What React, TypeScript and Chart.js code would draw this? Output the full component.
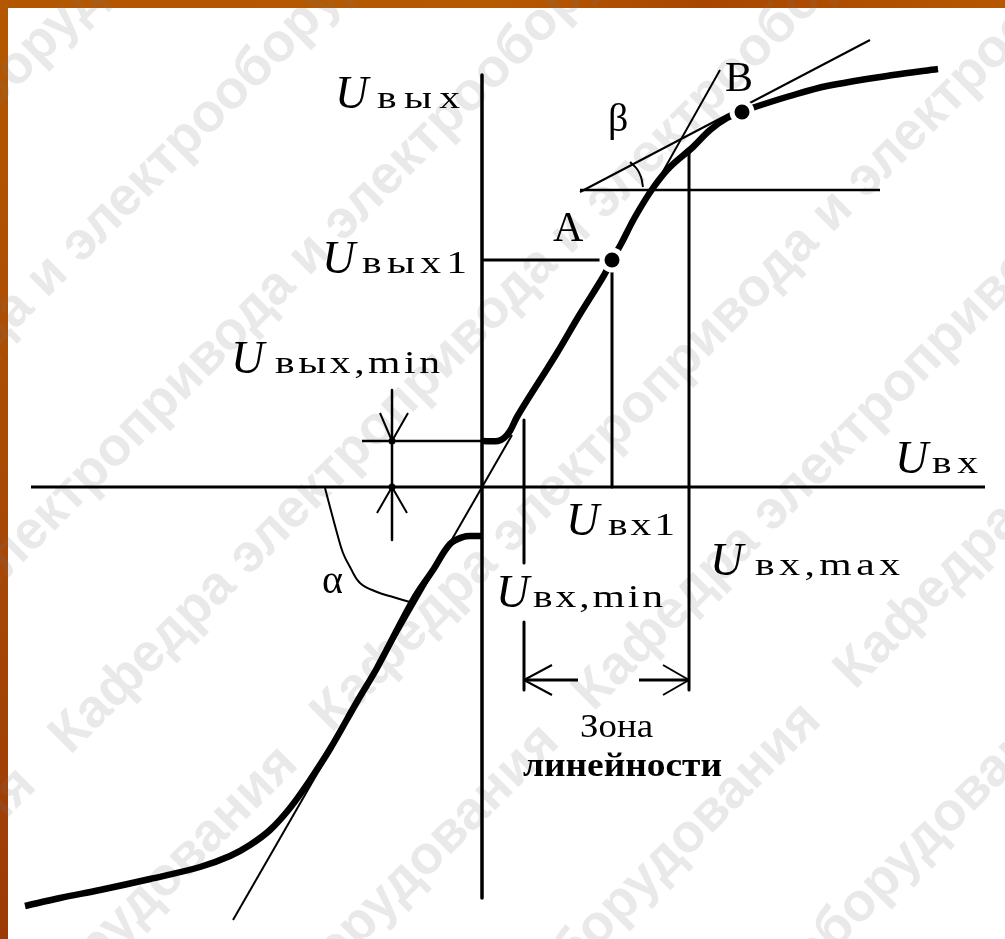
import React, { useEffect, useRef } from "react";
import { Chart, registerables } from "chart.js";

Chart.register(...registerables);

type Pt = [number, number];

// Coordinate frame: origin at the crossing of the Uвх / Uвых axes, y pointing up
const xRange: Pt = [-482, 523];
const yRange: Pt = [-452, 487];

const inputAxis: Pt[] = [[-451, 0], [503, 0]];
const outputAxis: Pt[] = [[0, 412], [0, -411]];

// Static characteristic Uвых = f(Uвх): branch for negative input
const curveNegative: Pt[] = [
  [-457, -419], [-422, -411], [-382, -403], [-332, -392], [-282, -380], [-252, -369],
  [-232, -358], [-212, -343], [-192, -321], [-172, -293], [-152, -262], [-124, -213],
  [-105, -181], [-69, -113], [-49, -83], [-32, -57], [-19, -50], [-9, -49], [0, -49],
];

// Branch for positive input, through the working point A and the point B
const curvePositive: Pt[] = [
  [0, 46], [16, 46], [22, 49], [28, 56], [35, 70], [58, 107], [75, 134], [98, 173],
  [121, 210], [130, 227], [139, 243], [153, 270], [171, 299], [188, 320], [211, 340],
  [228, 357], [245, 369], [260, 375], [270, 379], [308, 391], [345, 401], [411, 412],
  [456, 418],
];

// Tangents to the characteristic
const tangentOrigin: Pt[] = [[-249, -433], [30, 52]];
const tangentA: Pt[] = [[166, 289], [238, 417]];
const tangentB: Pt[] = [[98, 295], [388, 447]];

// Construction lines
const levelA: Pt[] = [[0, 227], [130, 227]];
const dropA: Pt[] = [[130, 227], [130, 0]];
const levelBeta: Pt[] = [[98, 297], [398, 297]];
const inputMaxLine: Pt[] = [[207, 335], [207, -203]];
const inputMinUpper: Pt[] = [[42, 67], [42, -76]];
const inputMinLower: Pt[] = [[42, -135], [42, -203]];

// Linear zone dimension arrows
const zoneArrowLeft: Pt[] = [[42, -193], [96, -193]];
const zoneArrowRight: Pt[] = [[157, -193], [207, -193]];
const zoneHeadLeft: Pt[] = [[70, -178], [42, -193], [70, -208]];
const zoneHeadRight: Pt[] = [[181, -178], [207, -193], [181, -208]];

// Uвых,min dimension
const outMinVertical: Pt[] = [[-90, 97], [-90, -53]];
const outMinLevel: Pt[] = [[-120, 46], [0, 46]];
const outMinHeadTop: Pt[] = [[-102, 74], [-90, 46], [-74, 74]];
const outMinHeadBottom: Pt[] = [[-105, -26], [-90, 0], [-75, -26]];

// Angle arcs
const alphaArc: Pt[] = [
  [-157, -1], [-152, -20], [-145, -46], [-139, -66], [-132, -80], [-122, -96],
  [-105, -105], [-89, -110], [-72, -115],
];
const betaArc: Pt[] = [[148, 325], [155, 318], [159, 310], [161, 300]];

// Marked points
const workPoints: Pt[] = [[130, 227], [260, 375]];
const dimensionDots: Pt[] = [[-90, 46], [-90, 0]];

// Axis and quantity labels: symbol U followed by its subscript text
const quantityLabels: { sub: string; at: Pt; subX: number; subWidth: number }[] = [
  { sub: "вых", at: [-147, 379], subX: -105, subWidth: 83 },
  { sub: "вых1", at: [-160, 214], subX: -120, subWidth: 105 },
  { sub: "вых,min", at: [-251, 114], subX: -207, subWidth: 165 },
  { sub: "вх", at: [413, 14], subX: 450, subWidth: 46 },
  { sub: "вх1", at: [84, -48], subX: 126, subWidth: 67 },
  { sub: "вх,min", at: [14, -120], subX: 51, subWidth: 130 },
  { sub: "вх,max", at: [228, -88], subX: 273, subWidth: 145 },
];

const plainLabels: { text: string; at: Pt; size: number; bold?: boolean; width?: number }[] = [
  { text: "A", at: [71, 246], size: 42 },
  { text: "B", at: [243, 396], size: 42 },
  { text: "β", at: [126, 356], size: 40 },
  { text: "α", at: [-160, -106], size: 40 },
  { text: "Зона", at: [98, -250], size: 34, width: 73 },
  { text: "линейности", at: [41, -289], size: 33, bold: true, width: 199 },
];

const watermarkText = "Кафедра электропривода и электрооборудования";

const serif = '"Liberation Serif", "DejaVu Serif", serif';

const toXY = (pts: Pt[]) => pts.map(([x, y]) => ({ x, y }));

function line(pts: Pt[], width: number, tension = 0) {
  return {
    data: toXY(pts),
    showLine: true,
    borderColor: "#000",
    backgroundColor: "#000",
    borderWidth: width,
    pointRadius: 0,
    pointHoverRadius: 0,
    tension,
    fill: false,
    clip: false as const,
    order: 3,
    borderCapStyle: "butt" as const,
    borderJoinStyle: "round" as const,
  };
}

// Draws text stretched horizontally (up to a limit) and spaced to a target width
function fitText(ctx: CanvasRenderingContext2D, text: string, x: number, y: number, target?: number) {
  (ctx as any).letterSpacing = "0px";
  if (!target) {
    ctx.fillText(text, x, y);
    return;
  }
  const w = ctx.measureText(text).width;
  const stretch = Math.max(0.85, Math.min(1.3, target / w));
  const rest = target / stretch - w;
  const ls = text.length > 1 ? rest / (text.length - 1) : 0;
  (ctx as any).letterSpacing = `${ls}px`;
  ctx.save();
  ctx.translate(x, y);
  ctx.scale(stretch, 1);
  ctx.fillText(text, 0, 0);
  ctx.restore();
  (ctx as any).letterSpacing = "0px";
}

const sheetPlugin = {
  id: "sheet",
  beforeDraw(chart: Chart) {
    const { ctx, width, height } = chart;
    ctx.save();
    ctx.fillStyle = "#fff";
    ctx.fillRect(0, 0, width, height);

    // frame bands
    const top = ctx.createLinearGradient(0, 0, width, 0);
    top.addColorStop(0, "#b35600");
    top.addColorStop(0.5, "#b65a00");
    top.addColorStop(0.7, "#a84600");
    top.addColorStop(1, "#b65800");
    ctx.fillStyle = top;
    ctx.fillRect(0, 0, width, 8);
    const left = ctx.createLinearGradient(0, 0, 0, height);
    left.addColorStop(0, "#b45800");
    left.addColorStop(0.6, "#a64806");
    left.addColorStop(1, "#9c3a06");
    ctx.fillStyle = left;
    ctx.fillRect(0, 0, 8, height);

    // diagonal watermark
    ctx.fillStyle = "rgba(120,120,120,0.16)";
    ctx.font = 'bold 54px "Liberation Sans", "DejaVu Sans", sans-serif';
    const phrase = watermarkText + "   ";
    const pw = ctx.measureText(phrase).width;
    let k = 0;
    for (let c = -160; c < width + height + 300; c += 240) {
      ctx.save();
      ctx.translate(0, c);
      ctx.rotate(-Math.PI / 4);
      const shift = ((k * 370) % pw) - pw;
      for (let s = shift - pw; s < 2000; s += pw) ctx.fillText(phrase, s, 18);
      ctx.restore();
      k++;
    }
    ctx.restore();
  },
  afterDatasetsDraw(chart: Chart) {
    const { ctx } = chart;
    const sx = chart.scales.x;
    const sy = chart.scales.y;
    ctx.save();
    ctx.fillStyle = "#000";
    ctx.textAlign = "left";
    ctx.textBaseline = "alphabetic";

    for (const lab of quantityLabels) {
      const x = sx.getPixelForValue(lab.at[0]);
      const y = sy.getPixelForValue(lab.at[1]);
      ctx.font = `italic 46px ${serif}`;
      fitText(ctx, "U", x, y);
      ctx.font = `32px ${serif}`;
      fitText(ctx, lab.sub, sx.getPixelForValue(lab.subX), y, lab.subWidth);
    }

    for (const lab of plainLabels) {
      ctx.font = `${lab.bold ? "bold " : ""}${lab.size}px ${serif}`;
      fitText(ctx, lab.text, sx.getPixelForValue(lab.at[0]), sy.getPixelForValue(lab.at[1]), lab.width);
    }
    ctx.restore();
  },
};

export default function App() {
  const ref = useRef<HTMLCanvasElement | null>(null);

  useEffect(() => {
    if (!ref.current) return;
    const datasets: any[] = [
      {
        data: toXY(workPoints),
        pointRadius: 7.5,
        pointBackgroundColor: "#000",
        pointBorderWidth: 0,
        showLine: false,
        clip: false,
        order: 1,
      },
      {
        data: toXY(dimensionDots),
        pointRadius: 3.5,
        pointBackgroundColor: "#000",
        pointBorderWidth: 0,
        showLine: false,
        clip: false,
        order: 1,
      },
      {
        data: toXY(workPoints),
        pointRadius: 12.5,
        pointBackgroundColor: "#fff",
        pointBorderWidth: 0,
        showLine: false,
        clip: false,
        order: 2,
      },
      line(inputAxis, 3),
      line(outputAxis, 3.5),
      line(curveNegative, 6.5, 0.35),
      line(curvePositive, 6.5, 0.35),
      line(tangentOrigin, 2),
      line(tangentA, 2),
      line(tangentB, 2),
      line(levelA, 3),
      line(dropA, 3),
      line(levelBeta, 2.5),
      line(inputMaxLine, 3),
      line(inputMinUpper, 3),
      line(inputMinLower, 3),
      line(zoneArrowLeft, 3),
      line(zoneArrowRight, 3),
      line(zoneHeadLeft, 2),
      line(zoneHeadRight, 2),
      line(outMinVertical, 2.5),
      line(outMinLevel, 2.5),
      line(outMinHeadTop, 2),
      line(outMinHeadBottom, 2),
      line(alphaArc, 2, 0.4),
      line(betaArc, 2, 0.4),
    ];

    const chart = new Chart(ref.current, {
      type: "scatter",
      data: { datasets },
      options: {
        animation: false,
        responsive: false,
        maintainAspectRatio: false,
        devicePixelRatio: 1,
        layout: { padding: 0, autoPadding: false },
        events: [],
        plugins: {
          legend: { display: false },
          tooltip: { enabled: false },
        },
        scales: {
          x: { type: "linear", min: xRange[0], max: xRange[1], display: false },
          y: { type: "linear", min: yRange[0], max: yRange[1], display: false },
        },
      },
      plugins: [sheetPlugin],
    });
    return () => chart.destroy();
  }, []);

  return (
    <div style={{ position: "fixed", left: 0, top: 0, width: 1005, height: 939, background: "#fff" }}>
      <canvas ref={ref} width={1005} height={939} style={{ display: "block", width: 1005, height: 939 }} />
    </div>
  );
}
